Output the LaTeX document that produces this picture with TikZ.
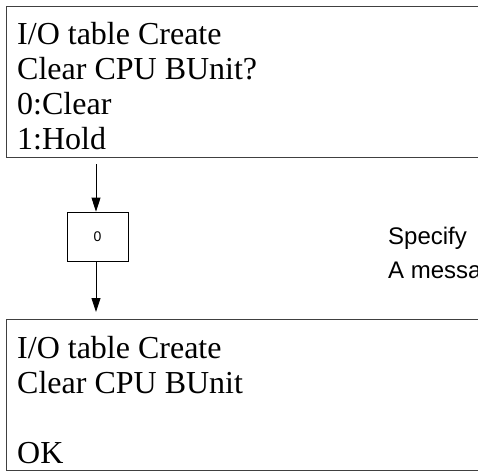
\documentclass[tikz,border=0pt]{standalone}
\usepackage{fontspec}
\setmainfont{Liberation Serif}
\newfontfamily\sansfnt{Liberation Sans}
\usetikzlibrary{arrows.meta}
\tikzset{
  screen/.style={draw=black!75, line width=1.1pt, anchor=north west, minimum width=500pt, minimum height=151pt, inner sep=0pt},
  scr/.style={anchor=base west, inner sep=0pt, font=\fontsize{32}{35}\selectfont},
  note/.style={anchor=base west, inner sep=0pt, font=\sansfnt\fontsize{24}{28}\selectfont},
  valbox/.style={draw, line width=0.8pt, minimum width=61pt, minimum height=49pt, inner sep=0pt, font=\sansfnt\fontsize{14}{16}\selectfont},
  arr/.style={line width=0.9pt, -{Triangle[length=14pt,width=9pt]}}
}
\begin{document}
\begin{tikzpicture}[x=1pt,y=-1pt]
\useasboundingbox (0,0) rectangle (478,470);
\clip (0,0) rectangle (478,470);
% top screen
\node[screen] (top) at (6,6) {};
\node[scr] (t1) at (17,45) {I/O table Create};
\node[scr] (t2) at (17,80) {Clear CPU BUnit?};
\node[scr] (t3) at (17,115) {0:Clear};
\node[scr] (t4) at (17,150) {1:Hold};
% value box
\node[valbox] (zero) at (97.5,236.5) {0};
% bottom screen
\node[screen] (bot) at (6,319) {};
\node[scr] (b1) at (17,358) {I/O table Create};
\node[scr] (b2) at (17,393) {Clear CPU BUnit};
\node[scr] (b3) at (17,463) {OK};
% notes (cut off at the right edge, as in the reference)
\node[note] (n1) at (388,244) {Specify};
\node[note] (n2) at (388,278) {A messa};
% arrows
\coordinate (ax) at (96,0);
\draw[arr] ([yshift=-6pt]top.south -| ax) -- (zero.north -| ax);
\draw[arr, shorten >=7pt] (zero.south -| ax) -- (bot.north -| ax);
\end{tikzpicture}
\end{document}
